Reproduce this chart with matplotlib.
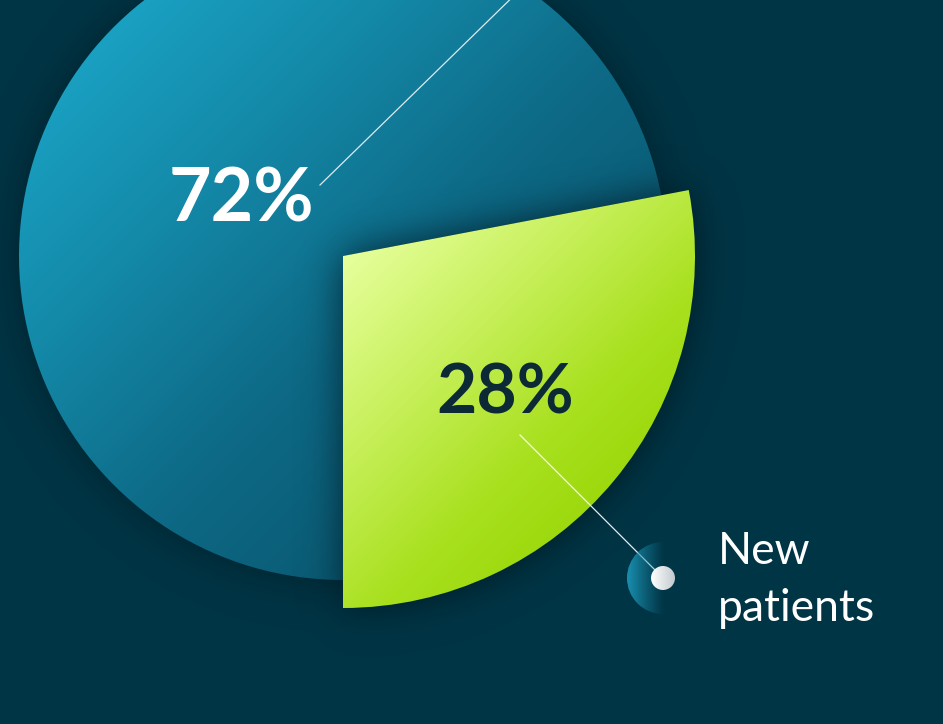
"""
Share of new patients - exploded pie on a dark background
"""

import numpy as np
import matplotlib.pyplot as plt
from matplotlib.patches import Wedge, Circle
from matplotlib.colors import LinearSegmentedColormap, to_rgb

# Data
shares = [72, 28]               # returning, new
pct_labels = ['72%', '28%']
new_label = ['New', 'patients']

# Canvas (1 data unit = 1 pixel, y up)
W, H = 943, 724
BG = '#003545'
CX, CY = 343, H - 256
R_BLUE, R_GREEN = 324, 352

green_start = -90
green_end = green_start + shares[1] * 3.6
blue_start, blue_end = green_end, green_start + 360


def blur(a, s, pad=120):
    a = np.pad(a, pad)
    ky = np.fft.fftfreq(a.shape[0])
    kx = np.fft.rfftfreq(a.shape[1])
    g = np.exp(-2 * (np.pi * s) ** 2 * (ky[:, None] ** 2 + kx[None, :] ** 2))
    out = np.fft.irfft2(np.fft.rfft2(a) * g, s=a.shape)
    return out[pad:-pad, pad:-pad]


def shade(alpha, color='#001018'):
    img = np.zeros(alpha.shape + (4,))
    img[..., :3] = to_rgb(color)
    img[..., 3] = np.clip(alpha, 0, 1)
    return img


# pixel grid (row 0 = top)
X, Yp = np.meshgrid(np.arange(W) + 0.5, np.arange(H) + 0.5)
Y = H - Yp
ang = np.degrees(np.arctan2(Y - CY, X - CX))
rr = np.hypot(X - CX, Y - CY)
in_green_ang = (ang >= green_start) & (ang <= green_end)
blue_mask = ((rr <= R_BLUE) & ~in_green_ang).astype(float)
green_mask = ((rr <= R_GREEN) & in_green_ang).astype(float)

fig = plt.figure(figsize=(W / 100, H / 100), dpi=100, facecolor=BG)
ax = fig.add_axes([0, 0, 1, 1])
ax.set_xlim(0, W)
ax.set_ylim(0, H)
ax.axis('off')
ext = (0, W, 0, H)

# shadow of the big slice on the background
ax.imshow(shade(0.55 * blur(blue_mask, 22)), extent=ext, origin='upper', zorder=1)

# blue slice with diagonal gradient
blue_cmap = LinearSegmentedColormap.from_list(
    'b', ['#1ba6c8', '#1489a8', '#0d6985', '#0a5770'])
t = np.clip(((X - 40) + (Yp - 40)) / 900, 0, 1)
w_blue = Wedge((CX, CY), R_BLUE, blue_start, blue_end, fc='none', ec='none')
ax.add_patch(w_blue)
im = ax.imshow(blue_cmap(t), extent=ext, origin='upper', zorder=2)
im.set_clip_path(w_blue)

# shadow of the green slice
ax.imshow(shade(0.75 * blur(green_mask, 20)), extent=ext, origin='upper', zorder=3)

# green slice
green_cmap = LinearSegmentedColormap.from_list(
    'g', ['#e6ff9c', '#c8f05c', '#a8e01e', '#94d400'])
t = np.clip(((X - CX) + (Yp - 258)) / 580, 0, 1)
w_green = Wedge((CX, CY), R_GREEN, green_start, green_end, fc='none', ec='none')
ax.add_patch(w_green)
im = ax.imshow(green_cmap(t), extent=ext, origin='upper', zorder=4)
im.set_clip_path(w_green)

# leader lines
ax.plot([320, 530], [H - 185, H + 20], color='white', lw=0.9, alpha=0.85, zorder=5)
dot_x, dot_y = 663, H - 578
ax.plot([520, dot_x], [H - 435, dot_y], color='white', lw=0.9, alpha=0.9, zorder=5)

# glow behind the dot
glow = Circle((dot_x, dot_y), 36, fc='none', ec='none')
ax.add_patch(glow)
g = np.zeros((H, W, 4))
g[..., :3] = to_rgb('#1a90b2')
g[..., 3] = np.clip((dot_x + 2 - X) / 38, 0, 1) ** 1.2
im = ax.imshow(g, extent=ext, origin='upper', zorder=5)
im.set_clip_path(glow)

dot = Circle((dot_x, dot_y), 12, fc='none', ec='none')
ax.add_patch(dot)
dot_cmap = LinearSegmentedColormap.from_list('d', ['#ffffff', '#c2cace'])
im = ax.imshow(dot_cmap(np.clip((X - dot_x + 12) / 24, 0, 1)), extent=ext,
               origin='upper', zorder=6)
im.set_clip_path(dot)

# labels
ax.text(241, H - 222, pct_labels[0], color='white', fontsize=53, fontweight='bold',
        family='Lato', ha='center', va='baseline', zorder=7)
ax.text(505, H - 413, pct_labels[1], color='#0c2a36', fontsize=50, fontweight='bold',
        family='Lato', ha='center', va='baseline', zorder=7)
ax.text(718, H - 564, new_label[0], color='white', fontsize=32,
        family='Lato', ha='left', va='baseline', zorder=7)
ax.text(718, H - 621, new_label[1], color='white', fontsize=32,
        family='Lato', ha='left', va='baseline', zorder=7)

plt.savefig('out.png', dpi=100, facecolor=BG)
